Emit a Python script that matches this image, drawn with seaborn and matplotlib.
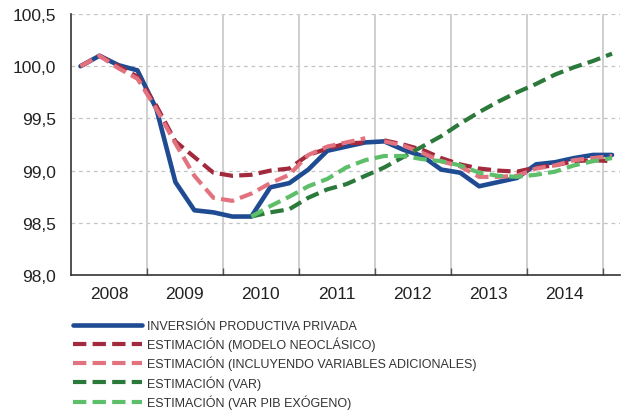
import numpy as np
import pandas as pd
import seaborn as sns
import matplotlib
matplotlib.use("Agg")
import matplotlib.pyplot as plt
from matplotlib.lines import Line2D
from matplotlib.ticker import FuncFormatter, FixedLocator

# quarterly series, 2008Q1 .. 2015Q1
years = [2008, 2009, 2010, 2011, 2012, 2013, 2014]
quarters = [(y, q) for y in range(2008, 2015) for q in range(1, 5)] + [(2015, 1)]

inversion = [100.0, 100.1, 100.01, 99.96, 99.59, 98.89, 98.62, 98.6,
             98.56, 98.56, 98.84, 98.88, 99.01, 99.19, 99.23, 99.27,
             99.28, 99.2, 99.14, 99.01, 98.98, 98.85, 98.89, 98.93,
             99.06, 99.08, 99.12, 99.15, 99.15]

# neoclassical model, two segments (2008Q1-2011Q4, 2012Q1-2015Q1)
neoclasico_a = [100.0, 100.1, 100.0, 99.9, 99.62, 99.28, 99.13, 98.98,
                98.95, 98.96, 99.0, 99.02, 99.15, 99.21, 99.26, 99.27]
neoclasico_b = [99.29, 99.25, 99.2, 99.12, 99.06, 99.02, 99.0, 98.99,
                99.03, 99.05, 99.09, 99.1, 99.09]

adicionales_a = [100.0, 100.1, 99.98, 99.88, 99.59, 99.26, 98.95, 98.74,
                 98.71, 98.78, 98.88, 98.96, 99.15, 99.23, 99.27, 99.31]
adicionales_b = [99.28, 99.24, 99.17, 99.09, 99.04, 98.94, 98.94, 98.95,
                 99.02, 99.05, 99.1, 99.12, 99.14]

# VAR estimations start in 2010Q2
var = [98.56, 98.6, 98.63, 98.74, 98.82, 98.87, 98.95, 99.03, 99.13, 99.23,
       99.33, 99.45, 99.56, 99.66, 99.75, 99.83, 99.92, 99.99, 100.05, 100.12]
var_pib = [98.56, 98.66, 98.75, 98.85, 98.92, 99.03, 99.1, 99.14, 99.14, 99.11,
           99.09, 99.05, 98.98, 98.95, 98.94, 98.96, 98.99, 99.05, 99.09, 99.12]

labels = ["INVERSIÓN PRODUCTIVA PRIVADA",
          "ESTIMACIÓN (MODELO NEOCLÁSICO)",
          "ESTIMACIÓN (INCLUYENDO VARIABLES ADICIONALES)",
          "ESTIMACIÓN (VAR)",
          "ESTIMACIÓN (VAR PIB EXÓGENO)"]
colors = ["#1f4b93", "#a3293d", "#e3727f", "#2b7a3b", "#5dbf6a"]

t = np.array([y + (q - 0.5) / 4 for y, q in quarters])

sns.set_theme(style="white")
plt.rcParams["font.family"] = ["Liberation Sans", "DejaVu Sans"]

fig = plt.figure(figsize=(6.22, 4.14), dpi=100)
ax = fig.add_axes([71 / 622, 1 - 276 / 414, 549 / 622, 261 / 414])

dash = (3.2, 1.5)
lw = 3.0

sns.lineplot(x=t, y=inversion, ax=ax, color=colors[0], lw=lw + 0.3)
for seg, start in [(neoclasico_a, 0), (neoclasico_b, 16)]:
    sns.lineplot(x=t[start:start + len(seg)], y=seg, ax=ax, color=colors[1],
                 lw=lw, linestyle=(0, dash))
for seg, start in [(adicionales_a, 0), (adicionales_b, 16)]:
    sns.lineplot(x=t[start:start + len(seg)], y=seg, ax=ax, color=colors[2],
                 lw=lw, linestyle=(0, dash))
sns.lineplot(x=t[9:], y=var, ax=ax, color=colors[3], lw=lw, linestyle=(0, dash))
sns.lineplot(x=t[9:], y=var_pib, ax=ax, color=colors[4], lw=lw, linestyle=(0, dash))

ax.set_xlim(2008, 2015.23)
ax.set_ylim(98.0, 100.5)

# horizontal dashed grid
for v in [98.5, 99.0, 99.5, 100.0, 100.5]:
    ax.axhline(v, color="#c4c4c4", lw=0.9, ls=(0, (3, 3)), zorder=0)
# vertical year separators
for y in range(2009, 2016):
    ax.axvline(y, color="#cfcfcf", lw=1.4, zorder=0)

ax.yaxis.set_major_locator(FixedLocator([98.0, 98.5, 99.0, 99.5, 100.0, 100.5]))
ax.yaxis.set_major_formatter(FuncFormatter(lambda v, p: f"{v:.1f}".replace(".", ",")))
ax.tick_params(axis="y", length=0, pad=11, labelsize=12.5, colors="#222222")

ax.xaxis.set_major_locator(FixedLocator(list(range(2009, 2016))))
ax.xaxis.set_major_formatter(FuncFormatter(lambda v, p: ""))
ax.xaxis.set_minor_locator(FixedLocator([y + 0.5 for y in years]))
ax.set_xticklabels([str(y) for y in years], minor=True)
ax.tick_params(axis="x", which="major", direction="in", length=5, width=1,
               color="#555555", bottom=True)
ax.tick_params(axis="x", which="minor", length=0, pad=8, labelsize=12.5,
               colors="#222222")

for s in ["top", "right"]:
    ax.spines[s].set_visible(False)
for s in ["left", "bottom"]:
    ax.spines[s].set_color("#333333")
    ax.spines[s].set_linewidth(1.2)

handles = [Line2D([], [], color=colors[0], lw=lw + 0.3)]
handles += [Line2D([], [], color=c, lw=lw, linestyle=(0, dash)) for c in colors[1:]]
fig.legend(handles, labels, loc="upper left", bbox_to_anchor=(68 / 622, 1 - 316 / 414),
           frameon=False, handlelength=5.5, handletextpad=0.4, labelspacing=0.38,
           prop={"family": ["Liberation Sans", "DejaVu Sans"], "size": 9},
           labelcolor="#333333", borderaxespad=0)

fig.savefig("out.png", dpi=100)
